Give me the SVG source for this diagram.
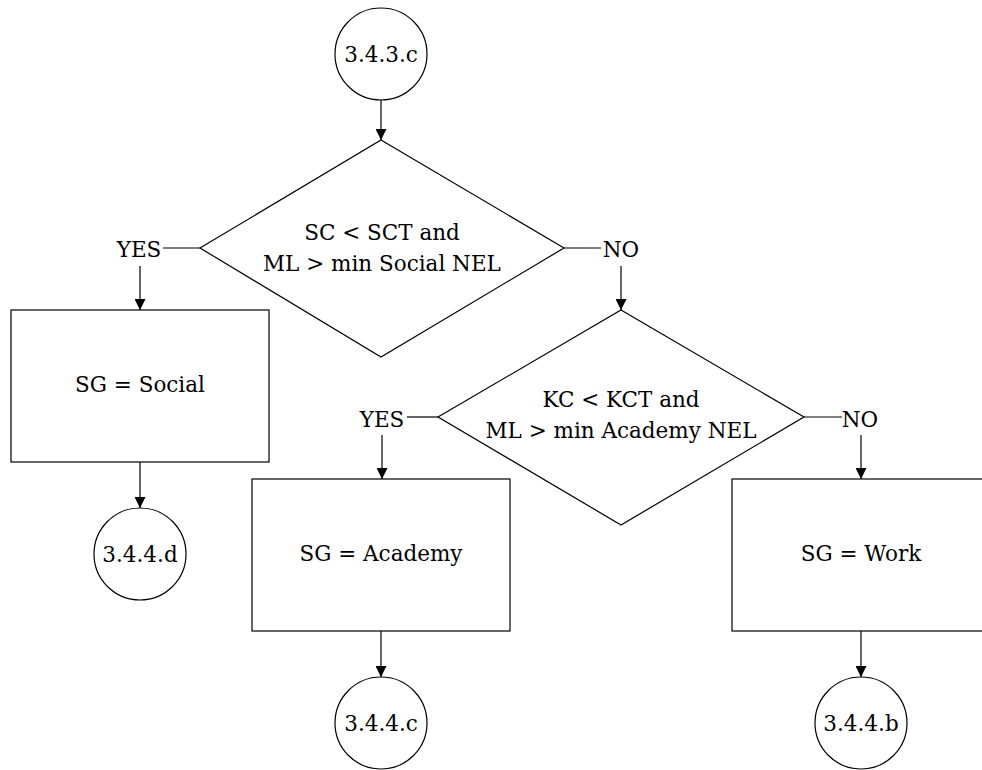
<svg xmlns="http://www.w3.org/2000/svg" width="982" height="770" viewBox="0 0 982 770">
  <style>
    .shape { fill: #fff; stroke: #000; stroke-width: 1.2; }
    .wire { fill: none; stroke: #000; stroke-width: 1.2; }
    .lbl { font-family: "DejaVu Serif", "Liberation Serif", serif; font-size: 21.5px; fill: #000; text-anchor: middle; }
  </style>
  <defs>
    <marker id="arrow" viewBox="0 0 10 10" refX="10" refY="5" markerWidth="11" markerHeight="11" markerUnits="userSpaceOnUse" orient="auto">
      <path d="M0,0 L10,5 L0,10 Z" fill="#000"/>
    </marker>
  </defs>
  <rect width="982" height="770" fill="#fff"/>

  <g id="connectors">
    <line class="wire" x1="381" y1="100" x2="381" y2="140" marker-end="url(#arrow)"/>
    <line class="wire" x1="163" y1="248" x2="200" y2="248"/>
    <line class="wire" x1="140" y1="266" x2="140" y2="310" marker-end="url(#arrow)"/>
    <line class="wire" x1="564" y1="248" x2="601" y2="248"/>
    <line class="wire" x1="621" y1="266" x2="621" y2="310" marker-end="url(#arrow)"/>
    <line class="wire" x1="140" y1="462" x2="140" y2="508" marker-end="url(#arrow)"/>
    <line class="wire" x1="407" y1="417" x2="438" y2="417"/>
    <line class="wire" x1="382" y1="435" x2="382" y2="479" marker-end="url(#arrow)"/>
    <line class="wire" x1="804" y1="417" x2="842" y2="417"/>
    <line class="wire" x1="861" y1="435" x2="861" y2="479" marker-end="url(#arrow)"/>
    <line class="wire" x1="381" y1="631" x2="381" y2="677" marker-end="url(#arrow)"/>
    <line class="wire" x1="861" y1="631" x2="861" y2="677" marker-end="url(#arrow)"/>
    <text class="lbl" x="139" y="257">YES</text>
    <text class="lbl" x="621" y="257">NO</text>
    <text class="lbl" x="382" y="427">YES</text>
    <text class="lbl" x="860" y="427">NO</text>
  </g>

  <g id="start">
    <circle class="shape" cx="381" cy="54" r="46"/>
    <text class="lbl" x="381" y="62">3.4.3.c</text>
  </g>

  <g id="decision-social">
    <polygon class="shape" points="381,140 564,248 381,357 200,248"/>
    <text class="lbl" x="382" y="240">SC &lt; SCT and</text>
    <text class="lbl" x="382" y="271">ML &gt; min Social NEL</text>
  </g>

  <g id="goal-social">
    <rect class="shape" x="11" y="310" width="258" height="152"/>
    <text class="lbl" x="140" y="392">SG = Social</text>
  </g>

  <g id="exit-d">
    <circle class="shape" cx="140" cy="554" r="46"/>
    <text class="lbl" x="140" y="562">3.4.4.d</text>
  </g>

  <g id="decision-academy">
    <polygon class="shape" points="621,310 804,417 621,525 438,417"/>
    <text class="lbl" x="621" y="407">KC &lt; KCT and</text>
    <text class="lbl" x="621" y="438">ML &gt; min Academy NEL</text>
  </g>

  <g id="goal-academy">
    <rect class="shape" x="252" y="479" width="258" height="152"/>
    <text class="lbl" x="381" y="561">SG = Academy</text>
  </g>

  <g id="exit-c">
    <circle class="shape" cx="381" cy="723" r="46"/>
    <text class="lbl" x="381" y="731">3.4.4.c</text>
  </g>

  <g id="goal-work">
    <rect class="shape" x="732" y="479" width="258" height="152"/>
    <text class="lbl" x="861" y="561">SG = Work</text>
  </g>

  <g id="exit-b">
    <circle class="shape" cx="861" cy="723" r="46"/>
    <text class="lbl" x="861" y="731">3.4.4.b</text>
  </g>
</svg>
